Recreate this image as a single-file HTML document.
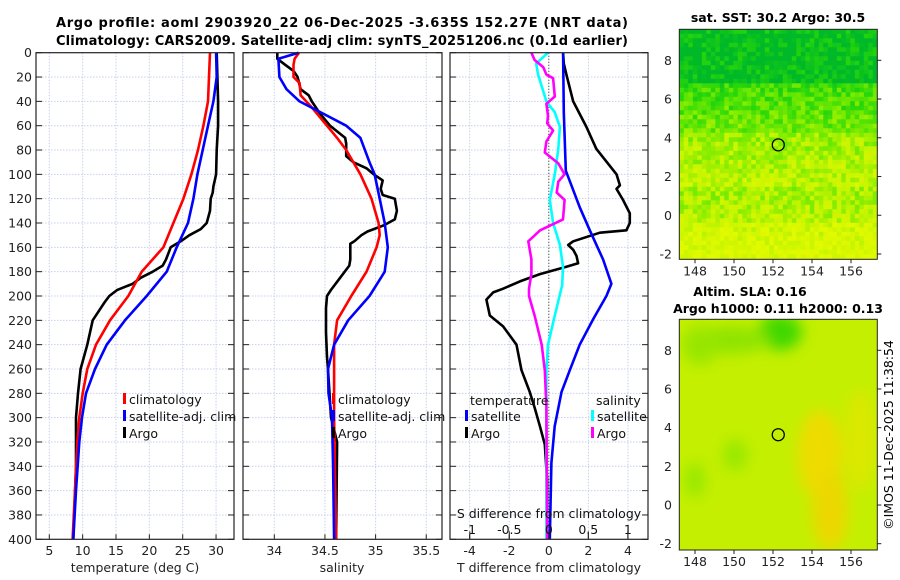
<!DOCTYPE html>
<html><head><meta charset="utf-8"><style>
html,body{margin:0;padding:0;background:#fff;width:900px;height:580px;overflow:hidden}
svg{display:block;font-family:"DejaVu Sans","Liberation Sans",sans-serif}
</style></head><body>
<svg id="fig" width="900" height="580" viewBox="0 0 900 580">
<text x="342" y="27" text-anchor="middle" font-size="13" font-weight="bold" textLength="572">Argo profile: aoml 2903920_22 06-Dec-2025 -3.635S 152.27E (NRT data)</text>
<text x="342" y="45" text-anchor="middle" font-size="13" font-weight="bold" textLength="572">Climatology: CARS2009. Satellite-adj clim: synTS_20251206.nc (0.1d earlier)</text>
<g id="p1"></g>
<g id="p2"></g>
<g id="p3"></g>
<g id="m1"></g>
<g id="m2"></g>
<text transform="translate(893,435) rotate(-90)" text-anchor="middle" font-size="12.5">©IMOS 11-Dec-2025 11:38:54</text>
</svg>
<script>
// ---- data ----
const depthTicks=[0,20,40,60,80,100,120,140,160,180,200,220,240,260,280,300,320,340,360,380,400];
const tTicks=[5,10,15,20,25,30];
const sTicks=[34,34.5,35,35.5];
const sTickLabels=["34","34.5","35","35.5"];
const dtTicks=[-4,-2,0,2,4];
const dsTicks=[-1,-0.5,0,0.5,1];
const dsTickLabels=["-1","-0.5","0","0.5","1"];
const climDepth=[0,40,60,80,100,120,140,160,180,200,220,240,260,280,300,320,360,400];
const climT=[29.1,28.8,28.1,27.3,26.3,25.1,23.6,22.1,18.85,16.85,14.1,12.0,10.7,10.0,9.5,9.2,8.85,8.5];
const satDepth=[0,20,40,60,80,100,120,140,160,180,200,220,240,260,280,300,320,360,400];
const satT=[30.0,30.1,29.6,28.8,28.0,27.2,26.6,25.8,24.1,22.6,19.6,16.35,13.6,11.85,10.5,9.9,9.5,9.0,8.6];
const argoTDepth=[0,20,40,60,80,100,110,115,120,130,140,145,150,155,160,170,175,180,185,190,195,200,205,210,220,240,260,280,300,340,400];
const argoT=[30.1,30.2,30.3,30.3,30.1,30.0,29.6,29.5,29.2,29.1,28.6,27.7,26.0,24.7,23.2,22.5,22.0,20.5,18.7,17.5,15.2,14.0,13.3,12.7,11.5,10.7,9.7,9.3,9.0,9.0,8.6];
const climSDepth=[0,5,10,20,25,35,45,55,70,80,100,120,140,150,160,180,200,220,240,300,400];
const climS=[34.244,34.20,34.19,34.19,34.25,34.26,34.37,34.47,34.62,34.71,34.85,34.96,35.03,35.04,35.01,34.91,34.76,34.62,34.59,34.59,34.61];
const satSDepth=[0,5,20,30,40,50,60,70,90,100,120,140,160,180,200,220,240,260,280,300,340,400];
const satS=[34.24,34.04,34.05,34.12,34.25,34.48,34.71,34.85,34.94,34.99,35.04,35.09,35.12,35.09,34.94,34.73,34.59,34.53,34.535,34.57,34.58,34.59];
const argoSDepth=[0,5,10,15,20,30,35,40,50,60,70,75,85,90,95,100,105,112,117,120,130,137,142,147,150,155,157,170,175,185,195,200,210,230,250,260,300,320,400];
const argoS=[34.03,34.03,34.11,34.19,34.23,34.26,34.34,34.37,34.45,34.55,34.70,34.71,34.71,34.78,34.91,34.98,35.07,35.05,35.07,35.19,35.21,35.19,35.08,34.92,34.86,34.79,34.75,34.75,34.74,34.65,34.56,34.52,34.51,34.51,34.52,34.53,34.56,34.62,34.61];
const dSatTDepth=[0,49,97,109,127,146,170,190,200,219,240,261,279,307,337,400];
const dSatT=[0.72,0.76,0.86,1.14,1.56,2.07,2.74,3.16,2.91,2.24,1.56,1.06,0.64,0.30,0.13,0.05];
const dArgoTDepth=[0,9,18,40,61,79,100,109,112,121,132,140,146,148,155,158,162,167,173,176,182,188,194,197,203,216,225,240,261,279,292,307,322,352,400];
const dArgoT=[0.72,0.76,0.89,1.23,1.9,2.4,3.42,3.59,3.42,3.75,4.09,4.09,3.92,2.58,1.23,0.98,1.23,1.4,1.48,0.89,-0.45,-1.46,-2.31,-2.81,-3.15,-2.98,-2.31,-1.63,-1.38,-0.96,-0.71,-0.45,-0.2,-0.08,-0.08];
const dSatSDepth=[0,9,18,40,49,61,79,100,121,140,158,176,191,216,240,261,400];
const dSatS=[-0.01,-0.16,-0.135,-0.03,0.076,0.14,0.12,0.076,0.013,0.055,0.14,0.18,0.17,0.076,-0.01,-0.03,-0.03];
const dArgoSDepth=[0,6,12,18,21,36,42,52,58,64,73,82,91,100,106,115,121,137,146,155,170,182,194,200,216,240,261,291,400];
const dArgoS=[-0.22,-0.18,-0.07,-0.03,0.055,0.076,-0.03,-0.01,-0.02,0.055,-0.03,-0.05,0.12,0.2,0.12,0.1,0.2,0.18,-0.11,-0.26,-0.22,-0.22,-0.25,-0.25,-0.18,-0.09,-0.05,-0.03,-0.02];
const argoLon=[152.27];
const argoLat=[3.635];

const NS="http://www.w3.org/2000/svg";
function mk(tag,parent,attrs,text){const e=document.createElementNS(NS,tag);for(const k in attrs)e.setAttribute(k,attrs[k]);if(text!==undefined)e.textContent=text;parent.appendChild(e);return e;}
const TOP=52.7,BOT=539.3;
const yD=d=>TOP+(d/400)*(BOT-TOP);

function panel(g,L,R,xs,ticks,labels,hasY){
  mk('rect',g,{x:L,y:TOP,width:R-L,height:BOT-TOP,fill:'#fff'});
  depthTicks.forEach(d=>{if(d>0&&d<400){const l=mk('line',g,{x1:L,x2:R,y1:yD(d),y2:yD(d),stroke:'#c8d0ec','stroke-width':1,'stroke-dasharray':'1.5,1.5'});}});
  ticks.forEach((t,i)=>{const x=xs(t);mk('line',g,{x1:x,x2:x,y1:TOP,y2:BOT,stroke:'#c8d0ec','stroke-width':1,'stroke-dasharray':'1.5,1.5'});
    if(labels){const tx=mk('text',g,{x:x,y:555,'text-anchor':'middle','font-size':12.5,fill:'#222'},labels[i]);}
    mk('line',g,{x1:x,x2:x,y1:BOT,y2:BOT-5,stroke:'#222'});});
  depthTicks.forEach(d=>{mk('line',g,{x1:L,x2:L+6,y1:yD(d),y2:yD(d),stroke:'#222'});mk('line',g,{x1:R,x2:R-6,y1:yD(d),y2:yD(d),stroke:'#222'});
    if(hasY){const t=mk('text',g,{x:32,y:yD(d)+4.5,'text-anchor':'end','font-size':12.5,fill:'#222'},String(d));}});
}
function frame(g,L,R){const f=mk('rect',g,{x:L,y:TOP,width:R-L,height:BOT-TOP,fill:'none',stroke:'#222','stroke-width':1.2});}
function line(g,xs,depths,vals,color,name){
  const pts=vals.map((v,i)=>xs(v).toFixed(1)+','+yD(depths[i]).toFixed(1)).join(' ');
  const p=mk('polyline',g,{points:pts,fill:'none',stroke:color,'stroke-width':2.6,'stroke-linejoin':'round'});
  
}
function legend(g,x,y,items){items.forEach((it,i)=>{const yy=y+i*17;mk('rect',g,{x:x-6,y:yy-7,width:3,height:11,fill:it[1]});
  const t=mk('text',g,{x:x,y:yy+4,'font-size':12.5,fill:'#111'},it[0]);});}

// panel 1
const p1=document.getElementById('p1');
const xT=t=>49.3+(t-5)*6.67;
panel(p1,36,234,xT,tTicks,tTicks.map(String),true);
line(p1,xT,argoTDepth,argoT,'#000','argo-temperature-line');
line(p1,xT,climDepth,climT,'#ff0000','climatology-temperature-line');
line(p1,xT,satDepth,satT,'#0000ff','satellite-temperature-line');
legend(p1,129,400,[['climatology','#f00'],['satellite-adj. clim','#00f'],['Argo','#000']]);
frame(p1,36,234);
mk('text',p1,{x:135,y:572,'text-anchor':'middle','font-size':12.5,fill:'#222'},'temperature (deg C)');

// panel 2
const p2=document.getElementById('p2');
const xS=s=>274.3+(s-34)*101.3;
panel(p2,243,442,xS,sTicks,sTickLabels,false);
line(p2,xS,argoSDepth,argoS,'#000','argo-salinity-line');
line(p2,xS,climSDepth,climS,'#ff0000','climatology-salinity-line');
line(p2,xS,satSDepth,satS,'#0000ff','satellite-salinity-line');
legend(p2,338,400,[['climatology','#f00'],['satellite-adj. clim','#00f'],['Argo','#000']]);
frame(p2,243,442);
mk('text',p2,{x:342,y:572,'text-anchor':'middle','font-size':12.5,fill:'#222'},'salinity');

// panel 3
const p3=document.getElementById('p3');
const xDT=v=>548.8+v*19.8;
const xDS=v=>548.8+v*79;
panel(p3,450,648,xDT,dtTicks,dtTicks.map(String),false);
mk('line',p3,{x1:548.8,x2:548.8,y1:TOP,y2:BOT,stroke:'#333','stroke-width':1,'stroke-dasharray':'1,2'});
line(p3,xDT,dArgoTDepth,dArgoT,'#000','argo-temperature-difference-line');
line(p3,xDS,dSatSDepth,dSatS,'#00ffff','satellite-salinity-difference-line');
line(p3,xDS,dArgoSDepth,dArgoS,'#ff00ff','argo-salinity-difference-line');
line(p3,xDT,dSatTDepth,dSatT,'#0000ff','satellite-temperature-difference-line');
mk('text',p3,{x:470,y:405,'font-size':12.5,fill:'#111'},'temperature');
legend(p3,471,417,[['satellite','#00f'],['Argo','#000']]);
mk('text',p3,{x:596,y:405,'font-size':12.5,fill:'#111'},'salinity');
legend(p3,597,417,[['satellite','#0ff'],['Argo','#f0f']]);
mk('text',p3,{x:549,y:518,'text-anchor':'middle','font-size':12.5,fill:'#111'},'S difference from climatology');
dsTicks.forEach((v,i)=>{mk('text',p3,{x:xDS(v),y:534,'text-anchor':'middle','font-size':12.5,fill:'#111'},dsTickLabels[i]);mk('line',p3,{x1:xDS(v),x2:xDS(v),y1:BOT,y2:BOT-8,stroke:'#222'});});
frame(p3,450,648);
mk('text',p3,{x:549,y:572,'text-anchor':'middle','font-size':12.5,fill:'#222'},'T difference from climatology');

// maps
const ML=679.3,MR=877.3;
const lonX=lo=>695+(lo-148)*19.5;
function hash(i,j){let h=(i*374761393+j*668265263)>>>0;h=((h^(h>>>13))*1274126177)>>>0;return ((h^(h>>>16))>>>0)/4294967296;}
function cmap(v){v=Math.max(0,Math.min(1,v));const st=[[0,185,40],[40,215,10],[120,235,0],[200,245,0],[225,250,0]];const f=v*(st.length-1);const i=Math.min(st.length-2,Math.floor(f));const t=f-i;return 'rgb('+st[i].map((c,k)=>Math.round(c+(st[i+1][k]-c)*t)).join(',')+')';}
function mapAxes(g,T,B,lat8,latm2,title){
  const latY=la=>lat8+(8-la)*(latm2-lat8)/10;
  [148,150,152,154,156].forEach(lo=>{mk('text',g,{x:lonX(lo),y:B+16,'text-anchor':'middle','font-size':12.5,fill:'#222'},String(lo));mk('line',g,{x1:lonX(lo),x2:lonX(lo),y1:B,y2:B+4,stroke:'#222'});});
  [-2,0,2,4,6,8].forEach(la=>{mk('text',g,{x:672,y:latY(la)+4.5,'text-anchor':'end','font-size':12.5,fill:'#222'},String(la));mk('line',g,{x1:MR,x2:MR+4,y1:latY(la),y2:latY(la),stroke:'#222'});});
  mk('rect',g,{x:ML,y:T,width:MR-ML,height:B-T,fill:'none',stroke:'#222','stroke-width':1});
  const c=mk('circle',g,{cx:lonX(argoLon[0]),cy:latY(argoLat[0]),r:6,fill:'none',stroke:'#000','stroke-width':1.3});
  
}
// SST map
const m1=document.getElementById('m1');
(function(){const T=29.3,B=259.3,cs=4.5;
  const lat8=60.3,latm2=254;
  for(let j=0;j*cs<B-T;j++){for(let i=0;i*cs<MR-ML;i++){
    const y=T+j*cs, lat=8-(y+cs/2-lat8)/((latm2-lat8)/10);
    let v=lat>6.8?0.05:lat>4.3?0.3+(6.8-lat)*0.08:0.6+(4.3-lat)*0.05;
    if(lat<1.5&&lat>-0.5)v-=0.12;
    v+= (hash(i,j)-0.5)*0.35;
    mk('rect',m1,{x:ML+i*cs,y:y,width:cs+0.3,height:Math.min(cs,B-y)+0.3,fill:cmap(v)});}}
  mk('text',m1,{x:778,y:22,'text-anchor':'middle','font-size':12.5,'font-weight':'bold'},'sat. SST: 30.2 Argo: 30.5');
  mapAxes(m1,T,B,lat8,latm2);
})();
// SLA map
const m2=document.getElementById('m2');
(function(){const T=319.3,B=550,lat8=350.3,latm2=543.7;
  const defs=mk('defs',m2,{});const f=mk('filter',defs,{id:'blur',x:'-50%',y:'-50%',width:'200%',height:'200%'});mk('feGaussianBlur',f,{stdDeviation:7});
  const cp=mk('clipPath',defs,{id:'mclip'});mk('rect',cp,{x:ML,y:T,width:MR-ML,height:B-T});
  const g=mk('g',m2,{'clip-path':'url(#mclip)'});
  mk('rect',g,{x:ML,y:T,width:MR-ML,height:B-T,fill:'#c4ef00'});
  const b=mk('g',g,{filter:'url(#blur)'});
  [[780,332,22,18,'#40d800'],[730,340,40,14,'#90e400'],[700,345,18,20,'#98e600'],[735,455,12,16,'#98e800'],[695,480,10,18,'#98e800'],[820,455,22,45,'#eedc00'],[830,510,18,40,'#ecd800'],[860,440,15,50,'#dce800']].forEach(e=>mk('ellipse',b,{cx:e[0],cy:e[1],rx:e[2],ry:e[3],fill:e[4]}));
  mk('text',m2,{x:750,y:296,'text-anchor':'middle','font-size':12.5,'font-weight':'bold'},'Altim. SLA: 0.16');
  mk('text',m2,{x:778,y:313,'text-anchor':'middle','font-size':12.5,'font-weight':'bold'},'Argo h1000: 0.11 h2000: 0.13');
  mapAxes(m2,T,B,lat8,latm2);
})();
</script>
</body></html>
